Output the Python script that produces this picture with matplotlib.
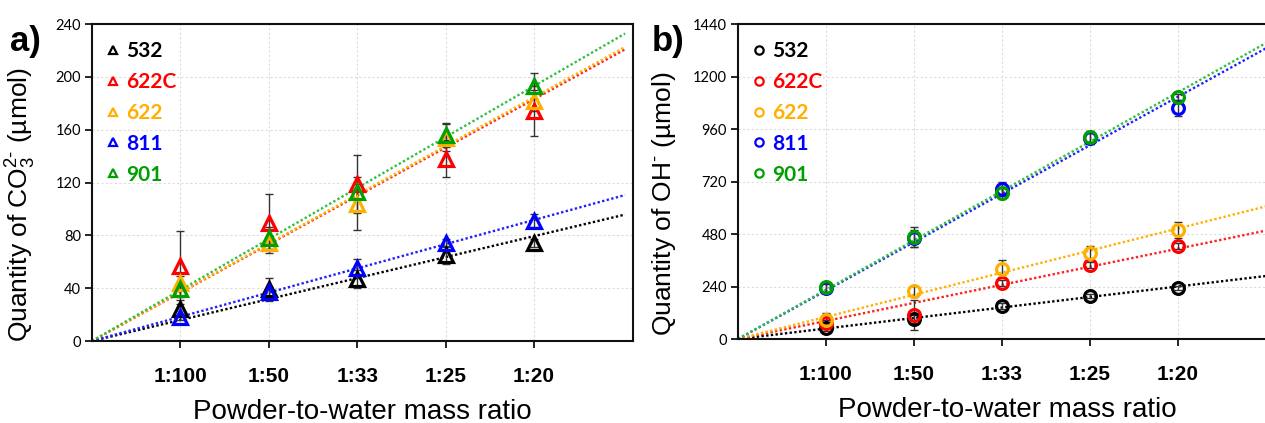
import matplotlib
matplotlib.use("Agg")
import matplotlib.pyplot as plt
from matplotlib.lines import Line2D
import numpy as np

plt.rcParams["font.family"] = ["Liberation Sans", "DejaVu Sans"]
plt.rcParams["mathtext.fontset"] = "custom"
plt.rcParams["mathtext.rm"] = "Liberation Sans"
plt.rcParams["mathtext.it"] = "Liberation Sans:italic"
plt.rcParams["mathtext.bf"] = "Liberation Sans:bold"

# ── Data ──
ratios = np.array([0.01, 0.02, 0.03, 0.04, 0.05])
ratio_labels = ["1:100", "1:50", "1:33", "1:25", "1:20"]
samples = ["532", "622C", "622", "811", "901"]
colors = ["#000000", "#ff0000", "#ffb000", "#0000ff", "#00a000"]
line_colors = ["#000000", "#ff2020", "#ffb000", "#2020ff", "#30c040"]

co3_vals = [
    [24, 39, 47, 65, 74],
    [57, 89, 119, 138, 174],
    [44, 74, 104, 154, 182],
    [18, 37, 55, 74, 91],
    [39, 78, 113, 156, 193],
]
co3_err = [
    [4, 9, 7, 7, 3],
    [26, 22, 22, 14, 19],
    [5, 4, 20, 10, 8],
    [2, 3, 7, 3, 5],
    [6, 8, 6, 9, 10],
]

oh_vals = [
    [50, 91, 151, 197, 233],
    [73, 110, 256, 338, 425],
    [87, 219, 322, 393, 498],
    [232, 460, 686, 920, 1056],
    [236, 466, 667, 923, 1106],
]
oh_err = [
    [15, 20, 15, 10, 10],
    [15, 70, 15, 15, 15],
    [30, 25, 40, 30, 35],
    [20, 40, 30, 30, 35],
    [20, 45, 25, 30, 15],
]

FIG_W, FIG_H = 1265, 423


def px_axes(left, right, top, bottom):
    return [left / FIG_W, 1 - bottom / FIG_H, (right - left) / FIG_W, (bottom - top) / FIG_H]


def draw_panel(ax, vals, errs, marker, ylim, yticks, ylabel, msize, label_x):
    x_fit = np.array([0.0, 0.0603])
    for i in range(len(samples)):
        y = np.array(vals[i], dtype=float)
        slope = np.sum(ratios * y) / np.sum(ratios ** 2)
        ax.plot(x_fit, slope * x_fit, linestyle=(0, (1, 1)), lw=1.7,
                color=line_colors[i], zorder=2)
    for i in range(len(samples)):
        ax.errorbar(ratios, vals[i], yerr=errs[i], fmt="none", ecolor="#333333",
                    elinewidth=1.0, capsize=3, capthick=1.0, zorder=3)
    for i in range(len(samples)):
        ax.plot(ratios, vals[i], linestyle="none", marker=marker, ms=msize,
                mfc="none", mec=colors[i], mew=2.3, zorder=4)

    ax.set_xlim(0, 0.0612)
    ax.set_ylim(*ylim)
    ax.set_xticks(ratios)
    ax.set_xticklabels(ratio_labels, fontsize=15, fontweight="bold")
    ax.set_yticks(yticks)
    ax.set_yticklabels([str(t) for t in yticks], fontsize=10.5, family="Lato")
    ax.tick_params(axis="x", direction="out", length=5, width=1.2, pad=14)
    ax.tick_params(axis="y", direction="out", length=5, width=1.2, pad=3)
    ax.grid(True, color="#dcdcdc", lw=0.8, linestyle=(0, (2, 2)))
    ax.set_axisbelow(True)
    for s in ax.spines.values():
        s.set_linewidth(1.5)
        s.set_color("#111111")
    ax.set_xlabel("Powder-to-water mass ratio", fontsize=20, labelpad=9)
    ax.set_ylabel(ylabel, fontsize=19)
    ax.yaxis.set_label_coords(label_x, 0.43)

    handles = [Line2D([], [], linestyle="none", marker=marker, ms=6, mfc="none",
                      mec=c, mew=1.6) for c in colors]
    ax.legend(handles, samples, loc="upper left", frameon=False,
              labelcolor=colors, prop={"family": "Lato", "weight": "bold", "size": 15},
              handletextpad=0.25, handlelength=0.8, labelspacing=0.52,
              borderaxespad=0.2, bbox_to_anchor=(0.0, 0.985))


fig = plt.figure(figsize=(FIG_W / 100, FIG_H / 100), dpi=100, facecolor="white")

ax_a = fig.add_axes(px_axes(92, 633, 24, 341))
draw_panel(ax_a, co3_vals, co3_err, "^", (0, 240), list(range(0, 241, 40)),
           "Quantity of CO$_3^{2\u2010}$ (\u00b5mol)", 9.5, -0.10)

ax_b = fig.add_axes(px_axes(738, 1276, 24, 339))
draw_panel(ax_b, oh_vals, oh_err, "o", (0, 1440), list(range(0, 1441, 240)),
           "Quantity of OH$^{\u2010}$ (\u00b5mol)", 8.5, -0.112)

fig.text(10 / FIG_W, 1 - 41 / FIG_H, "a)", fontsize=25, fontweight="bold", va="center")
fig.text(652 / FIG_W, 1 - 41 / FIG_H, "b)", fontsize=25, fontweight="bold", va="center")

fig.savefig("out.png", dpi=100, facecolor="white")
